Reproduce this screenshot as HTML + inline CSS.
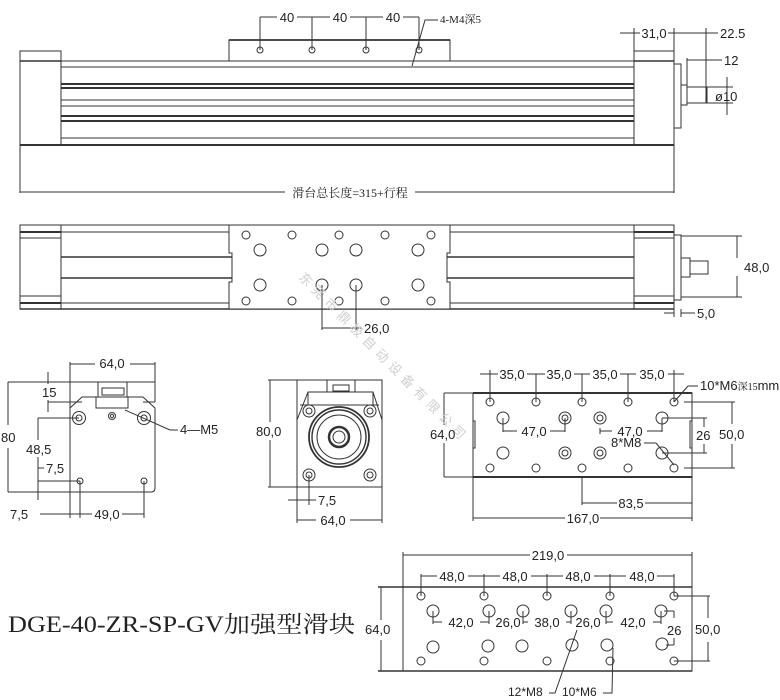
<!DOCTYPE html>
<html><head><meta charset="utf-8"><style>
html,body{margin:0;padding:0;background:#fff;}
svg{display:block;}
text{font-family:"Liberation Sans","Noto Sans CJK SC",sans-serif;font-size:13px;fill:#222;}
.s{font-family:"Liberation Serif","Noto Serif CJK SC",serif;}
</style></head><body>
<svg width="780" height="700" viewBox="0 0 780 700" xmlns="http://www.w3.org/2000/svg">
<g stroke="#333" stroke-width="1" fill="none">
<!-- TOP VIEW -->
<rect x="20" y="51" width="41" height="94"/>
<line x1="20" y1="61" x2="61" y2="61" stroke-width="1.6"/>
<rect x="634" y="51" width="40" height="94"/>
<line x1="634" y1="61" x2="674" y2="61" stroke-width="1.6"/>
<line x1="61" y1="61" x2="634" y2="61"/>
<line x1="61" y1="67" x2="634" y2="67"/>
<line x1="61" y1="84" x2="634" y2="84" stroke-width="2"/>
<line x1="61" y1="88" x2="634" y2="88" stroke-width="2"/>
<line x1="61" y1="100" x2="634" y2="100"/>
<line x1="61" y1="106" x2="634" y2="106"/>
<line x1="61" y1="116" x2="634" y2="116" stroke-width="2"/>
<line x1="61" y1="121" x2="634" y2="121" stroke-width="2"/>
<line x1="61" y1="138" x2="634" y2="138"/>
<line x1="20" y1="145" x2="674" y2="145" stroke-width="2"/>
<rect x="229" y="40" width="221" height="21" fill="#fff"/>
<line x1="229" y1="40" x2="450" y2="40" stroke-width="1.8"/>
<circle cx="260" cy="50" r="3"/><circle cx="312" cy="50" r="3"/><circle cx="366" cy="50" r="3"/><circle cx="419" cy="50" r="3"/>
<!-- motor top -->
<rect x="674" y="64" width="7" height="64"/>
<rect x="681" y="85" width="6" height="20"/>
<line x1="687" y1="58" x2="687" y2="105"/>
<rect x="687" y="87" width="20" height="16"/>
<!-- dims top -->
<line x1="260" y1="17" x2="260" y2="50"/><line x1="312" y1="17" x2="312" y2="50"/><line x1="366" y1="17" x2="366" y2="50"/><line x1="419" y1="17" x2="419" y2="50"/>
<line x1="260" y1="17" x2="277" y2="17"/><line x1="297" y1="17" x2="330" y2="17"/><line x1="350" y1="17" x2="383" y2="17"/><line x1="403" y1="17" x2="419" y2="17"/>
<polyline points="412,66 425,20 438,20"/>
<line x1="634" y1="51" x2="634" y2="28"/><line x1="674" y1="51" x2="674" y2="28"/><line x1="706" y1="28" x2="706" y2="103"/>
<line x1="620" y1="33" x2="640" y2="33"/><line x1="668" y1="33" x2="706" y2="33"/><line x1="706" y1="33" x2="718" y2="33"/>
<line x1="687" y1="60" x2="722" y2="60"/>
<line x1="707" y1="87" x2="733" y2="87"/><line x1="707" y1="103" x2="733" y2="103"/>
<line x1="727" y1="77" x2="727" y2="115"/>
<line x1="20" y1="145" x2="20" y2="193"/><line x1="674" y1="145" x2="674" y2="193"/>
<line x1="20" y1="192" x2="285" y2="192"/><line x1="415" y1="192" x2="674" y2="192"/>

<!-- SECOND VIEW -->
<rect x="20" y="225" width="41" height="84"/>
<line x1="20" y1="232" x2="61" y2="232" stroke-width="2"/>
<line x1="20" y1="238" x2="61" y2="238"/>
<line x1="20" y1="296" x2="61" y2="296"/>
<line x1="20" y1="303" x2="61" y2="303" stroke-width="2"/>
<rect x="634" y="225" width="40" height="84"/>
<line x1="634" y1="232" x2="674" y2="232" stroke-width="2"/>
<line x1="634" y1="238" x2="674" y2="238"/>
<line x1="634" y1="296" x2="674" y2="296"/>
<line x1="634" y1="303" x2="674" y2="303" stroke-width="2"/>
<line x1="61" y1="225" x2="634" y2="225"/>
<line x1="61" y1="232" x2="634" y2="232"/>
<line x1="61" y1="257" x2="634" y2="257" stroke-width="1.6"/>
<line x1="61" y1="278" x2="634" y2="278" stroke-width="1.6"/>
<line x1="61" y1="303" x2="634" y2="303"/>
<line x1="20" y1="309" x2="674" y2="309" stroke-width="1.6"/>
<path d="M229 225 H450 V253 H447 V282 H450 V309 H229 V282 H232 V253 H229 Z" fill="#fff"/>
<g>
<circle cx="246" cy="235" r="4"/><circle cx="292" cy="235" r="4"/><circle cx="339" cy="235" r="4"/><circle cx="385" cy="235" r="4"/><circle cx="431" cy="235" r="4"/>
<circle cx="246" cy="301" r="4"/><circle cx="292" cy="301" r="4"/><circle cx="339" cy="301" r="4"/><circle cx="385" cy="301" r="4"/><circle cx="431" cy="301" r="4"/>
<circle cx="260" cy="250" r="6"/><circle cx="322" cy="250" r="6"/><circle cx="356" cy="250" r="6"/><circle cx="418" cy="250" r="6"/>
<circle cx="260" cy="285" r="6"/><circle cx="322" cy="285" r="6"/><circle cx="356" cy="285" r="6"/><circle cx="418" cy="285" r="6"/>
</g>
<rect x="674" y="235" width="7" height="65"/>
<rect x="681" y="258" width="9" height="19"/>
<rect x="690" y="261" width="18" height="13"/>
<line x1="681" y1="236" x2="742" y2="236"/><line x1="681" y1="297" x2="742" y2="297"/>
<line x1="737" y1="236" x2="737" y2="258"/><line x1="737" y1="276" x2="737" y2="297"/>
<line x1="674" y1="309" x2="674" y2="317"/><line x1="681" y1="309" x2="681" y2="317"/>
<line x1="664" y1="313" x2="674" y2="313"/><line x1="681" y1="313" x2="695" y2="313"/>
<line x1="322" y1="285" x2="322" y2="330"/><line x1="356" y1="285" x2="356" y2="330"/>
<line x1="322" y1="328" x2="362" y2="328"/>

<!-- LEFT END VIEW -->
<line x1="70" y1="362" x2="70" y2="408"/><line x1="155" y1="362" x2="155" y2="402"/>
<line x1="70" y1="364" x2="95" y2="364"/><line x1="130" y1="364" x2="155" y2="364"/>
<line x1="8" y1="382" x2="155" y2="382"/>
<line x1="70" y1="402" x2="82" y2="402"/><line x1="143" y1="402" x2="155" y2="402"/>
<rect x="98" y="382" width="29" height="15"/>
<rect x="102" y="388" width="22" height="7"/>
<rect x="96" y="397" width="32" height="11"/>
<path d="M70 408 L82 397 H143 L155 408 V488 Q155 492 151 492 H70 Z"/>
<line x1="8" y1="382" x2="8" y2="425"/><line x1="8" y1="448" x2="8" y2="492"/>
<line x1="8" y1="492" x2="70" y2="492"/>
<circle cx="79" cy="418" r="6.5"/><circle cx="79" cy="418" r="3"/>
<circle cx="144" cy="418" r="6.5"/><circle cx="144" cy="418" r="3"/>
<circle cx="112" cy="416" r="3.5"/><circle cx="112" cy="416" r="1.6"/>
<circle cx="80" cy="481" r="3"/><circle cx="144" cy="481" r="3"/>
<line x1="48" y1="372" x2="48" y2="384"/><line x1="48" y1="400" x2="48" y2="412"/>
<line x1="48" y1="402" x2="70" y2="402"/>
<line x1="38" y1="418" x2="79" y2="418"/>
<line x1="38" y1="418" x2="38" y2="440"/><line x1="38" y1="457" x2="38" y2="500"/>
<line x1="38" y1="481" x2="80" y2="481"/>
<line x1="38" y1="468" x2="44" y2="468"/>
<line x1="125" y1="410" x2="170" y2="430"/><line x1="170" y1="430" x2="178" y2="430"/>
<line x1="70" y1="492" x2="70" y2="518"/><line x1="80" y1="481" x2="80" y2="518"/><line x1="144" y1="481" x2="144" y2="518"/>
<line x1="40" y1="514" x2="80" y2="514"/><line x1="80" y1="514" x2="92" y2="514"/><line x1="122" y1="514" x2="144" y2="514"/>

<!-- MIDDLE END VIEW -->
<rect x="297" y="380" width="85" height="107"/>
<rect x="327" y="380" width="28" height="12"/>
<rect x="333" y="385" width="16" height="6"/>
<path d="M297 420 L308 392 H373 L382 420"/>
<line x1="308" y1="392" x2="308" y2="405"/><line x1="373" y1="392" x2="373" y2="405"/>
<line x1="300" y1="405" x2="379" y2="405"/>
<circle cx="339" cy="437" r="30" stroke-width="1.8"/>
<circle cx="339" cy="437" r="27" stroke-width="1.4"/>
<circle cx="339" cy="437" r="22"/>
<circle cx="339" cy="437" r="10" stroke-width="2.5"/>
<circle cx="339" cy="437" r="6"/>
<circle cx="309" cy="411" r="6"/><circle cx="309" cy="411" r="3"/>
<circle cx="370" cy="411" r="6"/><circle cx="370" cy="411" r="3"/>
<circle cx="309" cy="475" r="6"/><circle cx="309" cy="475" r="3"/>
<circle cx="370" cy="475" r="6"/><circle cx="370" cy="475" r="3"/>
<line x1="268" y1="380" x2="297" y2="380"/><line x1="268" y1="487" x2="297" y2="487"/>
<line x1="270" y1="380" x2="270" y2="422"/><line x1="270" y1="440" x2="270" y2="487"/>
<line x1="309" y1="475" x2="309" y2="505"/>
<line x1="288" y1="500" x2="316" y2="500"/>
<line x1="297" y1="487" x2="297" y2="523"/><line x1="382" y1="487" x2="382" y2="523"/>
<line x1="297" y1="520" x2="316" y2="520"/><line x1="350" y1="520" x2="382" y2="520"/>

<!-- RIGHT TOP BLOCK -->
<rect x="473" y="393" width="219" height="84"/>
<line x1="473" y1="393" x2="692" y2="393" stroke-width="2"/>
<line x1="473" y1="477" x2="692" y2="477" stroke-width="2"/>
<rect x="473" y="421" width="2" height="27"/>
<rect x="690" y="421" width="2" height="27"/>
<g>
<circle cx="490" cy="402" r="4"/><circle cx="536" cy="402" r="4"/><circle cx="582" cy="402" r="4"/><circle cx="628" cy="402" r="4"/><circle cx="674" cy="402" r="4"/>
<circle cx="490" cy="468" r="4"/><circle cx="536" cy="468" r="4"/><circle cx="582" cy="468" r="4"/><circle cx="628" cy="468" r="4"/><circle cx="674" cy="468" r="4"/>
<circle cx="503" cy="418" r="6"/><circle cx="662" cy="418" r="6"/><circle cx="503" cy="453" r="6"/><circle cx="662" cy="453" r="6"/>
<circle cx="565" cy="418" r="6"/><circle cx="565" cy="418" r="3"/><circle cx="600" cy="418" r="6"/><circle cx="600" cy="418" r="3"/>
<circle cx="565" cy="453" r="6"/><circle cx="565" cy="453" r="3"/><circle cx="600" cy="453" r="6"/><circle cx="600" cy="453" r="3"/>
</g>
<line x1="480" y1="374" x2="498" y2="374"/><line x1="527" y1="374" x2="545" y2="374"/><line x1="574" y1="374" x2="590" y2="374"/><line x1="620" y1="374" x2="636" y2="374"/><line x1="668" y1="374" x2="684" y2="374"/>
<line x1="490" y1="370" x2="490" y2="402"/><line x1="536" y1="374" x2="536" y2="402"/><line x1="582" y1="374" x2="582" y2="402"/><line x1="628" y1="374" x2="628" y2="402"/><line x1="674" y1="370" x2="674" y2="402"/>
<line x1="674" y1="402" x2="688" y2="386"/><line x1="688" y1="386" x2="698" y2="386"/>
<line x1="503" y1="418" x2="503" y2="432"/><line x1="503" y1="431" x2="517" y2="431"/><line x1="550" y1="431" x2="565" y2="431"/><line x1="565" y1="418" x2="565" y2="432"/>
<line x1="600" y1="428" x2="600" y2="434"/><line x1="600" y1="431" x2="612" y2="431"/><line x1="647" y1="431" x2="662" y2="431"/><line x1="662" y1="418" x2="662" y2="432"/>
<line x1="662" y1="418" x2="707" y2="418"/><line x1="662" y1="453" x2="707" y2="453"/>
<line x1="704" y1="418" x2="704" y2="427"/><line x1="704" y1="444" x2="704" y2="453"/>
<line x1="684" y1="402" x2="735" y2="402"/><line x1="684" y1="468" x2="735" y2="468"/>
<line x1="732" y1="402" x2="732" y2="424"/><line x1="732" y1="444" x2="732" y2="468"/>
<line x1="644" y1="443" x2="656" y2="443"/><line x1="656" y1="443" x2="674" y2="465"/>
<line x1="444" y1="393" x2="473" y2="393"/><line x1="444" y1="477" x2="473" y2="477"/>
<line x1="444" y1="393" x2="444" y2="425"/><line x1="444" y1="443" x2="444" y2="477"/>
<line x1="582" y1="477" x2="582" y2="505"/><line x1="692" y1="477" x2="692" y2="521"/><line x1="473" y1="477" x2="473" y2="521"/>
<line x1="582" y1="503" x2="617" y2="503"/><line x1="645" y1="503" x2="692" y2="503"/>
<line x1="473" y1="518" x2="565" y2="518"/><line x1="600" y1="518" x2="692" y2="518"/>

<!-- BOTTOM BLOCK -->
<rect x="403" y="587" width="289" height="84"/>
<line x1="378" y1="587" x2="692" y2="587" stroke-width="1.4"/>
<line x1="378" y1="671" x2="692" y2="671" stroke-width="1.4"/>
<line x1="381" y1="587" x2="381" y2="620"/><line x1="381" y1="640" x2="381" y2="671"/>
<line x1="403" y1="552" x2="403" y2="587"/><line x1="692" y1="552" x2="692" y2="587"/>
<line x1="403" y1="555" x2="530" y2="555"/><line x1="567" y1="555" x2="692" y2="555"/>
<g>
<circle cx="421" cy="596" r="4"/><circle cx="484" cy="596" r="4"/><circle cx="547" cy="596" r="4"/><circle cx="610" cy="596" r="4"/><circle cx="674" cy="596" r="4"/>
<circle cx="421" cy="661" r="4"/><circle cx="484" cy="661" r="4"/><circle cx="547" cy="661" r="4"/><circle cx="610" cy="661" r="4"/><circle cx="674" cy="661" r="4"/>
<circle cx="433" cy="611" r="6"/><circle cx="489" cy="611" r="6"/><circle cx="523" cy="611" r="6"/><circle cx="571" cy="611" r="6"/><circle cx="606" cy="611" r="6"/><circle cx="661" cy="611" r="6"/>
<circle cx="433" cy="647" r="6"/><circle cx="488" cy="646" r="6"/><circle cx="522" cy="646" r="6"/><circle cx="572" cy="645" r="6"/><circle cx="607" cy="645" r="6"/><circle cx="662" cy="644" r="6"/>
</g>
<line x1="421" y1="574" x2="421" y2="596"/><line x1="484" y1="574" x2="484" y2="596"/><line x1="547" y1="574" x2="547" y2="596"/><line x1="610" y1="574" x2="610" y2="596"/><line x1="674" y1="574" x2="674" y2="596"/>
<line x1="421" y1="576" x2="437" y2="576"/><line x1="468" y1="576" x2="500" y2="576"/><line x1="531" y1="576" x2="563" y2="576"/><line x1="594" y1="576" x2="626" y2="576"/><line x1="657" y1="576" x2="674" y2="576"/>
<line x1="433" y1="611" x2="433" y2="624"/><line x1="489" y1="611" x2="489" y2="624"/><line x1="523" y1="611" x2="523" y2="624"/><line x1="571" y1="611" x2="571" y2="624"/><line x1="606" y1="611" x2="606" y2="624"/><line x1="661" y1="611" x2="661" y2="624"/>
<line x1="433" y1="622" x2="442" y2="622"/><line x1="480" y1="622" x2="489" y2="622"/><line x1="523" y1="622" x2="528" y2="622"/><line x1="566" y1="622" x2="571" y2="622"/><line x1="606" y1="622" x2="613" y2="622"/><line x1="653" y1="622" x2="661" y2="622"/>
<line x1="664" y1="611" x2="674" y2="611"/><line x1="674" y1="611" x2="674" y2="618"/><line x1="674" y1="638" x2="674" y2="645"/><line x1="666" y1="645" x2="674" y2="645"/>
<line x1="674" y1="596" x2="710" y2="596"/><line x1="674" y1="661" x2="710" y2="661"/>
<line x1="708" y1="596" x2="708" y2="618"/><line x1="708" y1="642" x2="708" y2="661"/>
<polyline points="577,630 555,693 549,693"/>
<polyline points="613,648 612,693 603,693"/>
</g>
<!-- watermark -->
<g fill="#cfcfcf">
<text x="0" y="0" transform="translate(298,278) rotate(45)" style="font-size:13px;fill:#cfcfcf" letter-spacing="5">东莞市鼎极自动设备有限公司</text>
</g>
<!-- TEXT -->
<text x="287" y="22" text-anchor="middle">40</text>
<text x="340" y="22" text-anchor="middle">40</text>
<text x="393" y="22" text-anchor="middle">40</text>
<text class="s" x="440" y="23" style="font-size:11px">4-M4深5</text>
<text x="654" y="38" text-anchor="middle">31,0</text>
<text x="720" y="38">22.5</text>
<text x="724" y="65">12</text>
<text x="715" y="101">ø10</text>
<text class="s" x="350" y="197" text-anchor="middle" style="font-size:12px">滑台总长度=315+行程</text>
<text x="744" y="272">48,0</text>
<text x="697" y="318">5,0</text>
<text x="364" y="333">26,0</text>
<text x="112" y="368" text-anchor="middle">64,0</text>
<text x="42" y="397">15</text>
<text x="1" y="442">80</text>
<text x="26" y="454">48,5</text>
<text x="46" y="473">7,5</text>
<text x="180" y="434">4—M5</text>
<text x="10" y="519">7,5</text>
<text x="107" y="519" text-anchor="middle">49,0</text>
<text x="256" y="436">80,0</text>
<text x="318" y="505">7,5</text>
<text x="333" y="525" text-anchor="middle">64,0</text>
<text x="512" y="379" text-anchor="middle">35,0</text>
<text x="559" y="379" text-anchor="middle">35,0</text>
<text x="605" y="379" text-anchor="middle">35,0</text>
<text x="652" y="379" text-anchor="middle">35,0</text>
<text x="700" y="390">10*M6<tspan class="s" style="font-size:10px;font-family:'Liberation Serif','Noto Serif CJK SC',serif">深15</tspan>mm</text>
<text x="534" y="436" text-anchor="middle">47,0</text>
<text x="630" y="436" text-anchor="middle">47,0</text>
<text x="611" y="447">8*M8</text>
<text x="696" y="440">26</text>
<text x="719" y="439">50,0</text>
<text x="430" y="439">64,0</text>
<text x="631" y="508" text-anchor="middle">83,5</text>
<text x="583" y="523" text-anchor="middle">167,0</text>
<text x="548" y="560" text-anchor="middle">219,0</text>
<text x="452" y="581" text-anchor="middle">48,0</text>
<text x="515" y="581" text-anchor="middle">48,0</text>
<text x="578" y="581" text-anchor="middle">48,0</text>
<text x="642" y="581" text-anchor="middle">48,0</text>
<text x="461" y="627" text-anchor="middle">42,0</text>
<text x="508" y="627" text-anchor="middle">26,0</text>
<text x="547" y="627" text-anchor="middle">38,0</text>
<text x="588" y="627" text-anchor="middle">26,0</text>
<text x="633" y="627" text-anchor="middle">42,0</text>
<text x="667" y="635">26</text>
<text x="695" y="634">50,0</text>
<text x="365" y="634">64,0</text>
<text x="508" y="696" style="font-size:12px">12*M8</text>
<text x="562" y="696" style="font-size:12px">10*M6</text>
<text class="s" x="8" y="632" textLength="347" lengthAdjust="spacingAndGlyphs" style="font-size:23px">DGE-40-ZR-SP-GV加强型滑块</text>
</svg>
</body></html>
